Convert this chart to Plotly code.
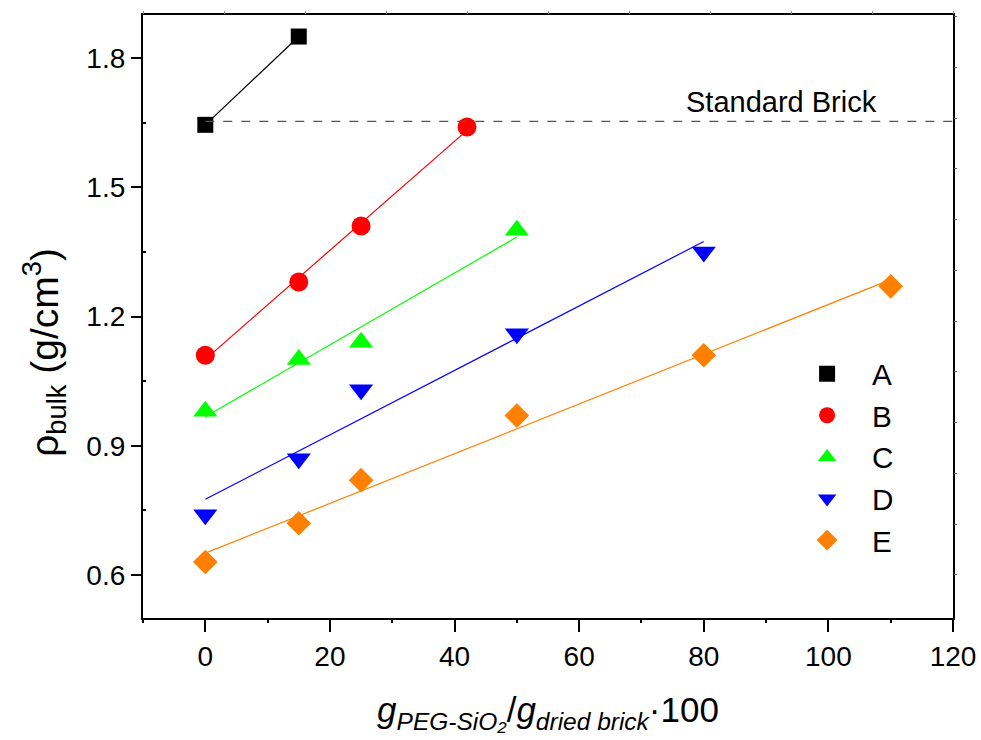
import numpy as np
import plotly.graph_objects as go

# Bulk density vs PEG-SiO2 loading for five brick series
x_a = [0, 15]
rho_a = [1.645, 1.85]

x_b = [0, 15, 25, 42]
rho_b = [1.11, 1.28, 1.41, 1.64]

x_c = [0, 15, 25, 50]
rho_c = [0.98, 1.10, 1.14, 1.40]

x_d = [0, 15, 25, 50, 80]
rho_d = [0.74, 0.87, 1.03, 1.16, 1.35]

x_e = [0, 15, 25, 50, 80, 110]
rho_e = [0.63, 0.72, 0.82, 0.97, 1.11, 1.27]

standard_brick = 1.653

FONT = "Arial, Liberation Sans, sans-serif"

series = [
    ("A", x_a, rho_a, "#000000", "square", 16, False),
    ("B", x_b, rho_b, "#FF0000", "circle", 19, True),
    ("C", x_c, rho_c, "#00FF00", "triangle-up", 21, True),
    ("D", x_d, rho_d, "#0000FF", "triangle-down", 21, True),
    ("E", x_e, rho_e, "#FF8000", "diamond", 19, True),
]

fig = go.Figure()

# connecting / fitted lines
for name, xs, ys, color, sym, size, fit in series:
    xs = np.asarray(xs, dtype=float)
    ys = np.asarray(ys, dtype=float)
    if fit:
        k, b = np.polyfit(xs, ys, 1)
        lx = np.array([xs.min(), xs.max()])
        ly = k * lx + b
    else:
        lx, ly = xs, ys
    fig.add_trace(go.Scatter(x=lx, y=ly, mode="lines",
                             line=dict(color=color, width=1.2),
                             showlegend=False, hoverinfo="skip"))

# markers
for name, xs, ys, color, sym, size, fit in series:
    fig.add_trace(go.Scatter(x=xs, y=ys, mode="markers", name=name,
                             marker=dict(symbol=sym, size=size, color=color,
                                         line=dict(width=0))))

# standard brick reference
fig.add_shape(type="line", xref="x", yref="y", x0=0, x1=120,
              y0=standard_brick, y1=standard_brick,
              line=dict(color="#555555", width=1.3, dash="dash"))
fig.add_annotation(x=92.5, y=standard_brick, xref="x", yref="y",
                   text="Standard Brick", showarrow=False,
                   yanchor="bottom", yshift=1,
                   font=dict(family=FONT, size=29, color="#000000"))

# y-axis title
fig.add_annotation(x=-0.122, y=0.44, xref="paper", yref="paper",
                   text="ρ<sub>bulk</sub> (g/cm<sup>3</sup>)", textangle=-90,
                   showarrow=False, xanchor="center", yanchor="middle",
                   font=dict(family=FONT, size=39, color="#000000"))

# invisible trace hosting the top/right tick axes
fig.add_trace(go.Scatter(x=[None], y=[None], xaxis="x2", yaxis="y2",
                         showlegend=False, hoverinfo="skip"))

fig.update_layout(
    width=981, height=740,
    margin=dict(l=143, r=28, t=15, b=122, autoexpand=False),
    paper_bgcolor="white", plot_bgcolor="white",
    font=dict(family=FONT, color="#000000"),
    showlegend=True,
    legend=dict(x=0.789, y=0.448, xanchor="left", yanchor="top",
                bgcolor="rgba(0,0,0,0)", borderwidth=0,
                font=dict(family=FONT, size=29.7),
                itemwidth=80, itemsizing="trace", tracegroupgap=0),
    xaxis=dict(range=[-10, 120], tickvals=[0, 20, 40, 60, 80, 100, 120],
               ticks="outside", ticklen=12, tickwidth=2, tickcolor="#000",
               minor=dict(tickvals=[-10, 10, 30, 50, 70, 90, 110], ticks="outside",
                          ticklen=3, tickwidth=1.5, tickcolor="#000"),
               showline=True, linewidth=2.2, linecolor="#000", mirror=True,
               showgrid=False, zeroline=False, automargin=False,
               ticklabeloverflow="allow",
               tickfont=dict(family=FONT, size=28),
               title=dict(text="<i>g</i><sub><i>PEG-SiO₂</i></sub>/<i>g</i><sub><i>dried brick</i></sub>·100",
                          font=dict(family=FONT, size=35), standoff=27)),
    yaxis=dict(range=[0.5, 1.9], tickvals=[0.6, 0.9, 1.2, 1.5, 1.8],
               ticktext=["0.6", "0.9", "1.2", "1.5", "1.8"],
               ticks="outside", ticklen=10, tickwidth=2, tickcolor="#000",
               minor=dict(tickvals=[0.75, 1.05, 1.35, 1.65], ticks="inside",
                          ticklen=3, tickwidth=1.5, tickcolor="#000"),
               showline=True, linewidth=2.2, linecolor="#000", mirror=True,
               showgrid=False, zeroline=False, automargin=False,
               tickfont=dict(family=FONT, size=28)),
    xaxis2=dict(overlaying="x", side="top", range=[-10, 120],
                tick0=3, dtick=13, ticks="outside", ticklen=3, tickwidth=1,
                tickcolor="#888", showticklabels=False, showgrid=False,
                zeroline=False, showline=False, automargin=False),
    yaxis2=dict(overlaying="y", side="right", range=[0.5, 1.9],
                tick0=0.718, dtick=0.1178, ticks="outside", ticklen=3, tickwidth=1,
                tickcolor="#555", showticklabels=False, showgrid=False,
                zeroline=False, showline=False, automargin=False),
)

fig.write_html("out.html")
